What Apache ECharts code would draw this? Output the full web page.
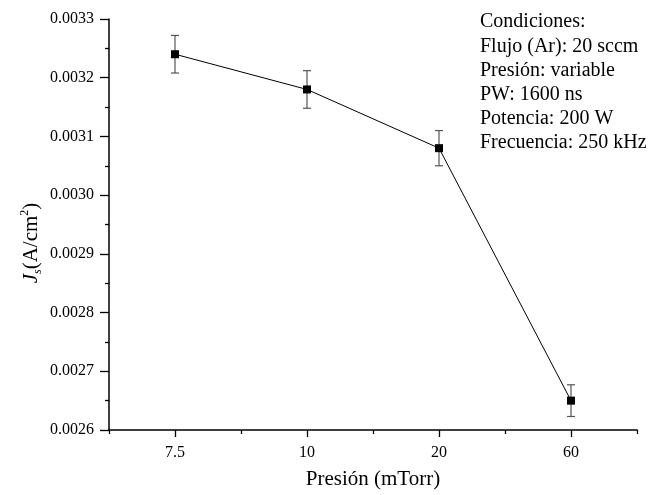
<!DOCTYPE html>
<html>
<head>
<meta charset="utf-8">
<script src="https://cdn.jsdelivr.net/npm/echarts@6/dist/echarts.min.js"></script>
<style>
html,body{margin:0;padding:0;background:#fff;}
#chart{width:648px;height:495px;}
</style>
</head>
<body>
<div id="chart"></div>
<script>
var categories = ['7.5', '10', '20', '60'];
var values = [0.00324, 0.00318, 0.00308, 0.00265];
var errors = [0.000032, 0.000032, 0.00003, 0.000027];
var yTicks = [0.0026, 0.0027, 0.0028, 0.0029, 0.0030, 0.0031, 0.0032, 0.0033];
var noteLines = ['Condiciones:', 'Flujo (Ar): 20 sccm', 'Presión: variable', 'PW: 1600 ns', 'Potencia: 200 W', 'Frecuencia: 250 kHz'];

var FONT = '"Liberation Serif", "Times New Roman", serif';
var chart = echarts.init(document.getElementById('chart'), null, {renderer: 'canvas'});

var errData = values.map(function (v, i) { return [i, v - errors[i], v + errors[i]]; });

var option = {
  backgroundColor: '#fff',
  animation: false,
  grid: {left: 109, right: 11, top: 19, bottom: 62, containLabel: false},
  xAxis: [{
    type: 'category',
    data: categories,
    boundaryGap: true,
    name: 'Presión (mTorr)',
    nameLocation: 'middle',
    nameGap: 39,
    nameTextStyle: {fontFamily: FONT, fontSize: 21, color: '#000'},
    axisLine: {show: true, lineStyle: {color: '#000', width: 1.5}},
    axisTick: {show: true, alignWithLabel: true, length: 7, lineStyle: {color: '#000', width: 1.3}},
    axisLabel: {fontFamily: FONT, fontSize: 16, color: '#000', margin: 15},
    splitLine: {show: false}
  }, {
    type: 'category',
    data: categories,
    position: 'bottom',
    offset: 0,
    boundaryGap: true,
    axisLine: {show: false},
    axisTick: {show: true, alignWithLabel: false, length: 4, lineStyle: {color: '#000', width: 1.3}},
    axisLabel: {show: false},
    splitLine: {show: false}
  }],
  yAxis: {
    type: 'value',
    min: yTicks[0],
    max: yTicks[yTicks.length - 1],
    interval: 0.0001,
    axisLine: {show: true, lineStyle: {color: '#000', width: 1.5}},
    axisTick: {show: true, length: 9, lineStyle: {color: '#000', width: 1.3}},
    minorTick: {show: true, splitNumber: 2, length: 4, lineStyle: {color: '#000', width: 1.3}},
    axisLabel: {fontFamily: FONT, fontSize: 16, color: '#000', margin: 15,
      formatter: function (v) { return v.toFixed(4); }},
    splitLine: {show: false}
  },
  graphic: [{
    type: 'text',
    x: 480,
    y: 10,
    style: {
      text: noteLines.join('\n'),
      font: '20px ' + FONT,
      fill: '#000',
      lineHeight: 24.2
    }
  }, {
    type: 'text',
    x: 31,
    y: 243,
    rotation: Math.PI / 2,
    style: {
      text: '{j|J}{s|s}{n|(A/cm}{p|2}{n|)}',
      align: 'center',
      verticalAlign: 'middle',
      rich: {
        j: {font: 'italic 21px ' + FONT, fill: '#000', lineHeight: 24},
        s: {font: 'italic 12px ' + FONT, fill: '#000', lineHeight: 24, padding: [13, 0, 0, 0]},
        n: {font: '21px ' + FONT, fill: '#000', lineHeight: 24},
        p: {font: '12px ' + FONT, fill: '#000', lineHeight: 24, padding: [0, 0, 12, 0]}
      }
    }
  }],
  series: [{
    type: 'custom',
    xAxisIndex: 0,
    data: errData,
    z: 1,
    renderItem: function (params, api) {
      var lo = api.coord([api.value(0), api.value(1)]);
      var hi = api.coord([api.value(0), api.value(2)]);
      var w = 4;
      var st = {stroke: '#555', lineWidth: 1.2};
      return {type: 'group', children: [
        {type: 'line', shape: {x1: hi[0], y1: hi[1], x2: lo[0], y2: lo[1]}, style: st},
        {type: 'line', shape: {x1: hi[0] - w, y1: hi[1], x2: hi[0] + w, y2: hi[1]}, style: st},
        {type: 'line', shape: {x1: lo[0] - w, y1: lo[1], x2: lo[0] + w, y2: lo[1]}, style: st}
      ]};
    }
  }, {
    type: 'line',
    xAxisIndex: 0,
    data: values,
    z: 3,
    symbol: 'rect',
    symbolSize: 8,
    itemStyle: {color: '#000'},
    lineStyle: {color: '#000', width: 1}
  }]
};
chart.setOption(option);
</script>
</body>
</html>
